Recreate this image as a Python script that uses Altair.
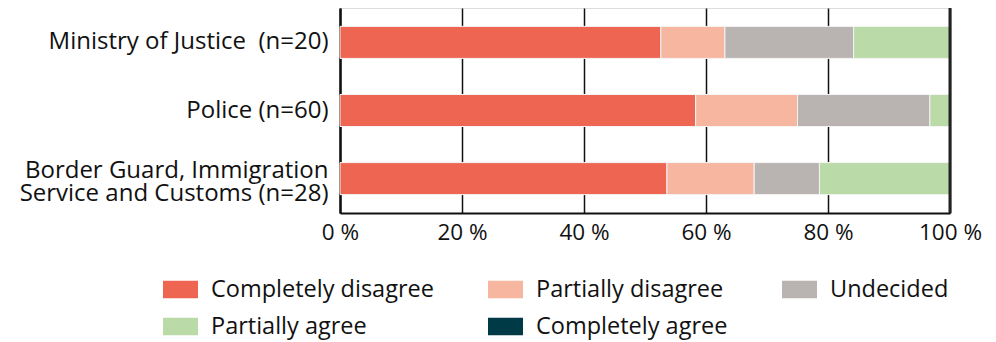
import altair as alt
import pandas as pd

groups = ["Ministry of Justice\u00a0 (n=20)", "Police (n=60)", "Border Guard, Immigration|Service and Customs (n=28)"]
answers = ["Completely disagree", "Partially disagree", "Undecided", "Partially agree", "Completely agree"]
colors = ["#EE6651", "#F6B6A0", "#B9B4B1", "#BADAA8", "#013A47"]

completely_disagree = [52.6, 58.3, 53.6]
partially_disagree = [10.5, 16.7, 14.3]
undecided = [21.1, 21.7, 10.7]
partially_agree = [15.8, 3.3, 21.4]
completely_agree = [0.0, 0.0, 0.0]

series = [completely_disagree, partially_disagree, undecided, partially_agree, completely_agree]
rows = []
for k, (ans, vals) in enumerate(zip(answers, series)):
    for g, v in zip(groups, vals):
        rows.append({"group": g, "answer": ans, "value": v, "order": k})
df = pd.DataFrame(rows)

FONT = "Open Sans"

bars = alt.Chart(df).mark_bar(stroke="#f4f4f4", strokeWidth=1).encode(
    y=alt.Y("group:N", sort=groups, title=None,
            scale=alt.Scale(paddingInner=0.53, paddingOuter=0.27),
            axis=alt.Axis(labelExpr="split(datum.label, '|')", ticks=False, grid=False,
                          domain=True, domainColor="#111", domainWidth=2.5,
                          labelPadding=12, labelFontSize=24, labelLineHeight=23.5,
                          labelOffset=alt.ExprRef("indexof(datum.value, '|') >= 0 ? -8 : 0"),
                          labelColor="#111", labelFont=FONT, labelLimit=400)),
    x=alt.X("value:Q", stack="normalize", title=None,
            scale=alt.Scale(domain=[0, 1], nice=False),
            axis=alt.Axis(values=[0, 0.2, 0.4, 0.6, 0.8, 1.0],
                          labelExpr="round(datum.value*100) + ' %'",
                          grid=True, gridColor="#111", gridWidth=1.5,
                          ticks=False, domain=True, domainColor="#111", domainWidth=2,
                          labelPadding=8, labelFontSize=22.5, labelColor="#111",
                          labelFont=FONT, labelFlush=False)),
    color=alt.Color("answer:N", sort=answers,
                    scale=alt.Scale(domain=answers, range=colors),
                    legend=alt.Legend(title=None, orient="none", legendX=-177, legendY=264,
                                      direction="horizontal", columns=3,
                                      symbolType="M-1,-0.5H1V0.5H-1Z", symbolSize=1225,
                                      symbolStrokeWidth=0, labelFontSize=23.5, labelFont=FONT,
                                      labelColor="#111", labelOffset=13, columnPadding=54,
                                      rowPadding=8, gridAlign="each", labelLimit=400)),
    order=alt.Order("order:Q"),
)

right_rule = alt.Chart(pd.DataFrame({"x": [1.0]})).mark_rule(color="#222", strokeWidth=3).encode(
    x=alt.X("x:Q")
)

chart = alt.layer(bars, right_rule).properties(
    width=610, height=205,
    autosize=alt.AutoSizeParams(type="none"),
    padding={"left": 340, "top": 8, "right": 46, "bottom": 129},
).configure_view(stroke=None).configure(font=FONT)

chart.save("out.html", embed_options={"renderer": "svg", "actions": False})
